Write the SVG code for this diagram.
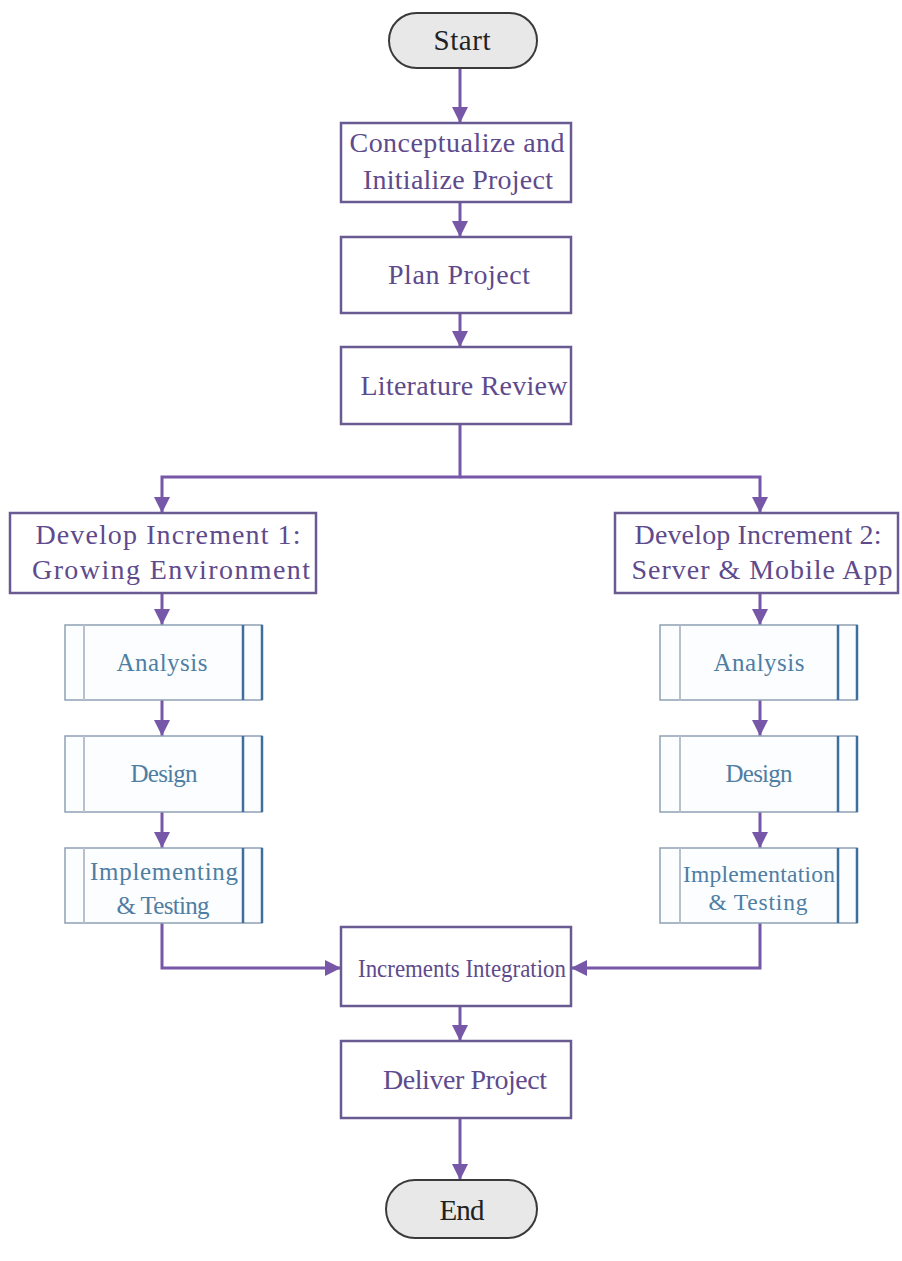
<svg xmlns="http://www.w3.org/2000/svg" width="902" height="1261" viewBox="0 0 902 1261">
<defs>
<marker id="ah" markerUnits="userSpaceOnUse" markerWidth="16" markerHeight="16" refX="16" refY="8" orient="auto">
<path d="M0,0 L16,8 L0,16 z" fill="#7657a8"/>
</marker>
<style>
text{font-family:'Liberation Serif','Times New Roman','DejaVu Serif',serif}
.term{fill:#e8e8e8;stroke:#3a3a3a;stroke-width:2}
.tt{font-size:29px;fill:#222;text-anchor:middle}
.box{fill:#fff;stroke:#6a5a92;stroke-width:2.5}
.mt{font-size:28px;fill:#5e4a8c;text-anchor:middle}
.sub{fill:#fbfdff;stroke:#8fa0b4;stroke-width:1.5}
.il{stroke:#b8c0cc;stroke-width:2}
.ir{stroke:#3f6f9c;stroke-width:2.5}
.st{font-size:25px;fill:#4f7ea3;text-anchor:middle}
.c{fill:none;stroke:#7657a8;stroke-width:3}
</style>
</defs>
<g id="connectors">
<path class="c" d="M460,68 V123" marker-end="url(#ah)"/>
<path class="c" d="M460,202 V237" marker-end="url(#ah)"/>
<path class="c" d="M460,313 V347" marker-end="url(#ah)"/>
<path class="c" d="M460,424 V477 H162 V513" marker-end="url(#ah)"/>
<path class="c" d="M460,477 H760 V513" marker-end="url(#ah)"/>
<path class="c" d="M162,593 V625" marker-end="url(#ah)"/>
<path class="c" d="M162,700 V736" marker-end="url(#ah)"/>
<path class="c" d="M162,812 V848" marker-end="url(#ah)"/>
<path class="c" d="M760,593 V625" marker-end="url(#ah)"/>
<path class="c" d="M760,700 V736" marker-end="url(#ah)"/>
<path class="c" d="M760,812 V848" marker-end="url(#ah)"/>
<path class="c" d="M162,923 V968 H341" marker-end="url(#ah)"/>
<path class="c" d="M760,923 V968 H571" marker-end="url(#ah)"/>
<path class="c" d="M460,1006 V1041" marker-end="url(#ah)"/>
<path class="c" d="M460,1118 V1180" marker-end="url(#ah)"/>
</g>
<g id="start">
<rect class="term" x="389" y="13" width="148" height="55" rx="27.5"/>
<text class="tt" x="462" y="50" textLength="57">Start</text>
</g>
<g id="conceptualize">
<rect class="box" x="341" y="123" width="230" height="79"/>
<text class="mt" x="457" y="152" textLength="215">Conceptualize and</text>
<text class="mt" x="458" y="189" textLength="190">Initialize Project</text>
</g>
<g id="plan">
<rect class="box" x="341" y="237" width="230" height="76"/>
<text class="mt" x="459" y="284" textLength="142">Plan Project</text>
</g>
<g id="literature">
<rect class="box" x="341" y="347" width="230" height="77"/>
<text class="mt" x="464" y="395" textLength="207">Literature Review</text>
</g>
<g id="inc1">
<rect class="box" x="10" y="513" width="306" height="80"/>
<text class="mt" x="168" y="544" textLength="265">Develop Increment 1:</text>
<text class="mt" x="171" y="579" textLength="278">Growing Environment</text>
</g>
<g id="inc2">
<rect class="box" x="615" y="513" width="283" height="80"/>
<text class="mt" x="758" y="544" textLength="247">Develop Increment 2:</text>
<text class="mt" x="762" y="579" textLength="261">Server &amp; Mobile App</text>
</g>
<g id="analysis1">
<rect class="sub" x="65" y="625" width="197" height="75"/>
<line class="il" x1="84" y1="625" x2="84" y2="700"/>
<line class="ir" x1="243" y1="625" x2="243" y2="700"/>
<line class="ir" x1="262" y1="625" x2="262" y2="700"/>
<text class="st" x="162" y="671" textLength="91">Analysis</text>
</g>
<g id="design1">
<rect class="sub" x="65" y="736" width="197" height="76"/>
<line class="il" x1="84" y1="736" x2="84" y2="812"/>
<line class="ir" x1="243" y1="736" x2="243" y2="812"/>
<line class="ir" x1="262" y1="736" x2="262" y2="812"/>
<text class="st" x="164" y="782" textLength="67">Design</text>
</g>
<g id="impl1">
<rect class="sub" x="65" y="848" width="197" height="75"/>
<line class="il" x1="84" y1="848" x2="84" y2="923"/>
<line class="ir" x1="243" y1="848" x2="243" y2="923"/>
<line class="ir" x1="262" y1="848" x2="262" y2="923"/>
<text class="st" x="164" y="880" textLength="148">Implementing</text>
<text class="st" x="163" y="914" textLength="93">&amp; Testing</text>
</g>
<g id="analysis2">
<rect class="sub" x="660" y="625" width="197" height="75"/>
<line class="il" x1="680" y1="625" x2="680" y2="700"/>
<line class="ir" x1="838" y1="625" x2="838" y2="700"/>
<line class="ir" x1="857" y1="625" x2="857" y2="700"/>
<text class="st" x="759" y="671" textLength="91">Analysis</text>
</g>
<g id="design2">
<rect class="sub" x="660" y="736" width="197" height="76"/>
<line class="il" x1="680" y1="736" x2="680" y2="812"/>
<line class="ir" x1="838" y1="736" x2="838" y2="812"/>
<line class="ir" x1="857" y1="736" x2="857" y2="812"/>
<text class="st" x="759" y="782" textLength="67">Design</text>
</g>
<g id="impl2">
<rect class="sub" x="660" y="848" width="197" height="75"/>
<line class="il" x1="680" y1="848" x2="680" y2="923"/>
<line class="ir" x1="838" y1="848" x2="838" y2="923"/>
<line class="ir" x1="857" y1="848" x2="857" y2="923"/>
<text class="st" x="759" y="882" style="font-size:23.5px" textLength="152">Implementation</text>
<text class="st" x="758" y="910" style="font-size:23.5px" textLength="99">&amp; Testing</text>
</g>
<g id="integration">
<rect class="box" x="341" y="927" width="230" height="79"/>
<text class="mt" x="462" y="977" style="font-size:26px" textLength="208" lengthAdjust="spacingAndGlyphs">Increments Integration</text>
</g>
<g id="deliver">
<rect class="box" x="341" y="1041" width="230" height="77"/>
<text class="mt" x="465" y="1089" textLength="164">Deliver Project</text>
</g>
<g id="end">
<rect class="term" x="386" y="1180" width="151" height="58" rx="29"/>
<text class="tt" x="462" y="1220" textLength="45">End</text>
</g>
</svg>
